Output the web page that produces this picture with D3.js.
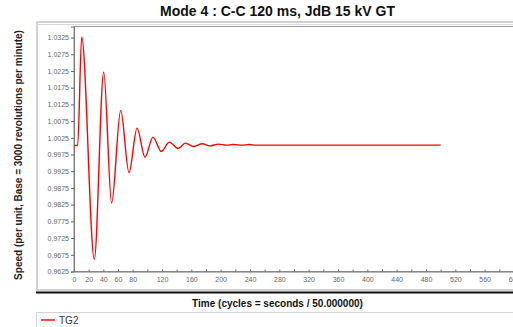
<!DOCTYPE html>
<html>
<head>
<meta charset="utf-8">
<script src="https://cdn.jsdelivr.net/npm/d3@7"></script>
<style>
  html, body { margin: 0; padding: 0; background: #fff; }
  svg { display: block; }
</style>
</head>
<body>
<div id="chart"></div>
<script>
// data
var title = "Mode 4 : C-C 120 ms, JdB 15 kV GT";
var seriesName = "TG2";
var cycles = [0, 5, 10.5, 27.7, 40.5, 51.3, 63.7, 75, 86, 96.8, 107.7, 119, 130, 142, 152, 163, 175, 185.5, 197, 208, 217, 229, 239, 248, 500];
var speed  = [1.0002, 1.0002, 1.0327, 0.9662, 1.0221, 0.9830, 1.0107, 0.9921, 1.0054, 0.9967, 1.0027, 0.9984, 1.0012, 0.9993, 1.0009, 0.9999, 1.0007, 1.0001, 1.0006, 1.0003, 1.0005, 1.0003, 1.0005, 1.0003, 1.0003];
var xTickLabels = [0, 20, 40, 60, 80, 120, 160, 200, 240, 280, 320, 360, 400, 440, 480, 520, 560, 600];
var yTickLabels = [0.9625, 0.9675, 0.9725, 0.9775, 0.9825, 0.9875, 0.9925, 0.9975, 1.0025, 1.0075, 1.0125, 1.0175, 1.0225, 1.0275, 1.0325];

var W = 513, H = 327;
var pLeft = 74, pTop = 26.5, pBottom = 271.5, pRight = 514;

var svg = d3.select("#chart").append("svg")
  .attr("width", W)
  .attr("height", H)
  .attr("font-family", "Liberation Sans, Arial, sans-serif");

var x = d3.scaleLinear().domain([0, 600]).range([pLeft, pRight]);
var y = d3.scaleLinear().domain([0.9625, 1.0358]).range([pBottom, pTop]);

// frame
svg.append("rect")
  .attr("x", 37).attr("y", 22)
  .attr("width", 520).attr("height", 268)
  .attr("fill", "none").attr("stroke", "#c4c4c4").attr("stroke-width", 1.5);
svg.append("line")
  .attr("x1", 37).attr("x2", W).attr("y1", 24.5).attr("y2", 24.5)
  .attr("stroke", "#d8d8d8");
svg.append("line")
  .attr("x1", 36).attr("x2", W).attr("y1", 292.5).attr("y2", 292.5)
  .attr("stroke", "#111").attr("stroke-width", 2);

// plot border
svg.append("rect")
  .attr("x", pLeft).attr("y", pTop)
  .attr("width", pRight - pLeft + 10).attr("height", pBottom - pTop)
  .attr("fill", "#fff").attr("stroke", "#999");

// title
svg.append("text")
  .attr("x", 277.5).attr("y", 16)
  .attr("text-anchor", "middle")
  .attr("font-size", 14).attr("font-weight", "bold")
  .attr("fill", "#111")
  .text(title);

// axes
var yAxis = d3.axisLeft(y)
  .tickValues(yTickLabels)
  .tickFormat(d3.format(".4f"))
  .tickSize(3).tickPadding(2);
var gy = svg.append("g").attr("transform", `translate(${pLeft},0)`).call(yAxis);

var xAxis = d3.axisBottom(x)
  .tickValues(d3.range(0, 601, 20))
  .tickFormat(d => xTickLabels.includes(d) ? d : "")
  .tickSize(-2).tickPadding(6);
var gx = svg.append("g").attr("transform", `translate(0,${pBottom})`).call(xAxis);

[gy, gx].forEach(g => {
  g.select(".domain").attr("stroke", "#777");
  g.selectAll(".tick line").attr("stroke", "#666");
  g.selectAll(".tick text")
    .attr("font-family", "Liberation Sans, Arial, sans-serif")
    .attr("font-size", 7).attr("fill", "#666");
});

// axis titles
svg.append("text")
  .attr("transform", "translate(22,155) rotate(-90)")
  .attr("text-anchor", "middle")
  .attr("font-size", 10).attr("font-weight", "bold")
  .attr("fill", "#222")
  .text("Speed (per unit, Base = 3000 revolutions per minute)");

svg.append("text")
  .attr("x", 277.5).attr("y", 306.5)
  .attr("text-anchor", "middle")
  .attr("font-size", 10).attr("font-weight", "bold")
  .attr("fill", "#111")
  .text("Time (cycles = seconds / 50.000000)");

// curve
var pts = cycles.map((c, i) => [c, speed[i]]);
svg.append("path")
  .datum(pts)
  .attr("fill", "none")
  .attr("stroke", "#ff0000")
  .attr("stroke-width", 1.4)
  .attr("d", d3.line().x(d => x(d[0])).y(d => y(d[1])).curve(d3.curveMonotoneX));

// legend
svg.append("rect")
  .attr("x", 36.5).attr("y", 312.5)
  .attr("width", 500).attr("height", 30)
  .attr("fill", "none").attr("stroke", "#d4d4d4");
svg.append("line")
  .attr("x1", 41).attr("x2", 55).attr("y1", 320).attr("y2", 320)
  .attr("stroke", "#ff0000").attr("stroke-width", 1.4);
svg.append("text")
  .attr("x", 59).attr("y", 323.5)
  .attr("font-size", 10).attr("fill", "#333")
  .text(seriesName);
</script>
</body>
</html>
